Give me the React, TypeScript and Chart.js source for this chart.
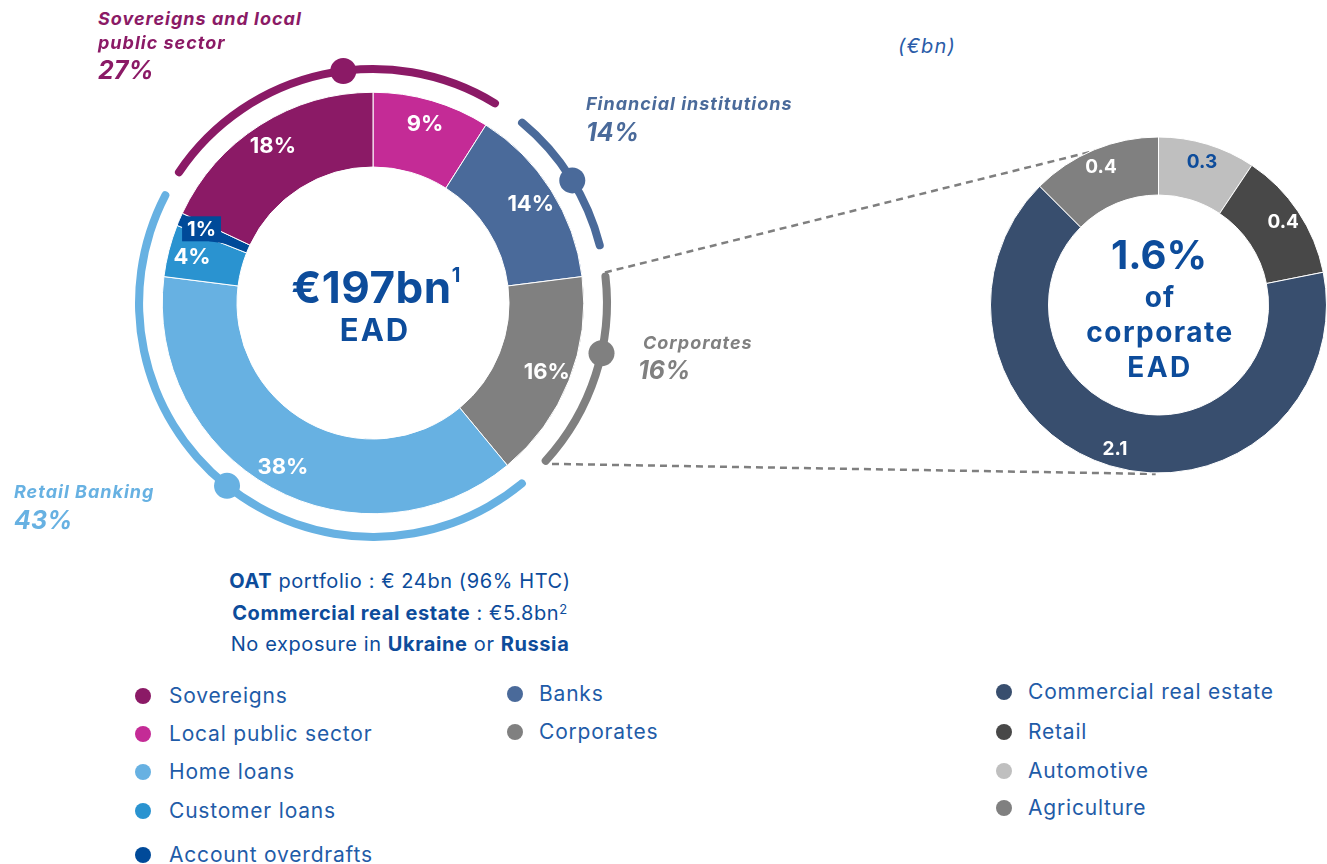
import React, { useEffect, useRef } from "react";
import { Chart, registerables } from "chart.js";

Chart.register(...registerables);

const FONT = "Inter, 'Noto Sans', sans-serif";
const DARK_BLUE = "#0D4C9B";
const LEGEND_BLUE = "#1F5CA8";

// ---- Total EAD breakdown (%), clockwise from 12 o'clock
const exposureCategories = ["Local public sector", "Banks", "Corporates", "Home loans", "Customer loans", "Account overdrafts", "Sovereigns"];
const exposureShares = [9, 14, 16, 38, 4, 1, 18];
const exposureColors = ["#C42B96", "#4A6A9A", "#808080", "#67B1E2", "#2A93D0", "#004A99", "#8B1A66"];

// ---- Groups drawn as outer brackets
const groupNames = ["Sovereigns and local public sector", "Financial institutions", "Corporates", "Retail Banking"];
const groupShares = [27, 14, 16, 43];
const groupColors = ["#8B1A66", "#4A6A9A", "#808080", "#67B1E2"];
// bracket sweeps (degrees), starting at bracketStart (degrees from 12 o'clock, clockwise)
const bracketStart = -57;
const bracketArcs = [89.4, 38.1, 50.9, 158.9];
const bracketGaps = [6.2, 5.8, 6.1, 4.6];
const groupDotAngles = [-7.3, 58.4, 102.4, 218.6];

// ---- Corporate breakdown (€bn), clockwise from 12 o'clock
const corporateCategories = ["Automotive", "Retail", "Commercial real estate", "Agriculture"];
const corporateValues = [0.3, 0.4, 2.1, 0.4];
const corporateColors = ["#BFBFBF", "#484848", "#384E6E", "#808080"];
const corporateLabelColors = [DARK_BLUE, "#FFFFFF", "#FFFFFF", "#FFFFFF"];

// ---- Legends
const legendColumnA = ["Sovereigns", "Local public sector", "Home loans", "Customer loans", "Account overdrafts"];
const legendColumnB = ["Banks", "Corporates"];
const legendColumnC = ["Commercial real estate", "Retail", "Automotive", "Agriculture"];

// ---- Layout
const MAIN_BOX = { left: 113, top: 43, size: 520 };
const SIDE_BOX = { left: 540, top: 105, width: 787, height: 400 };

const toRad = (deg: number) => ((deg - 90) * Math.PI) / 180;

function colorOf(name: string): string {
  let i = exposureCategories.indexOf(name);
  if (i >= 0) return exposureColors[i];
  i = corporateCategories.indexOf(name);
  return i >= 0 ? corporateColors[i] : "#999";
}

function T(props: any) {
  const { x, y, align = "left", size, weight = 400, italic = false, color, children, ls = 0, lh = 1.15 } = props;
  const tx = align === "center" ? "-50%" : align === "right" ? "-100%" : "0";
  return (
    <div
      style={{
        position: "absolute",
        left: x,
        top: y,
        transform: `translate(${tx},-50%)`,
        fontFamily: FONT,
        fontSize: size,
        fontWeight: weight,
        fontStyle: italic ? "italic" : "normal",
        letterSpacing: ls,
        color,
        whiteSpace: "nowrap",
        lineHeight: lh,
      }}
    >
      {children}
    </div>
  );
}

function LegendColumn(props: { items: string[]; dotX: number; textX: number; ys: number[] }) {
  return (
    <>
      {props.items.map((name, i) => (
        <React.Fragment key={name}>
          <div
            style={{
              position: "absolute",
              left: props.dotX - 8,
              top: props.ys[i] - 8,
              width: 16,
              height: 16,
              borderRadius: "50%",
              background: colorOf(name),
            }}
          />
          <T x={props.textX} y={props.ys[i]} size={21} ls={0.8} color={LEGEND_BLUE}>
            {name}
          </T>
        </React.Fragment>
      ))}
    </>
  );
}

export default function App() {
  const mainRef = useRef<HTMLCanvasElement | null>(null);
  const sideRef = useRef<HTMLCanvasElement | null>(null);

  useEffect(() => {
    if (!mainRef.current || !sideRef.current) return;

    const bracketData = bracketArcs.flatMap((a, i) => [a, bracketGaps[i]]);
    const bracketColors = groupColors.flatMap((c) => [c, "rgba(0,0,0,0)"]);

    const mainPlugin = {
      id: "mainDecor",
      afterDatasetsDraw(chart: any) {
        const ctx = chart.ctx;
        const b = chart.getDatasetMeta(0).data[0];
        const rMid = (b.innerRadius + b.outerRadius) / 2;
        ctx.save();
        groupDotAngles.forEach((d, i) => {
          const t = toRad(d);
          ctx.beginPath();
          ctx.arc(b.x + rMid * Math.cos(t), b.y + rMid * Math.sin(t), 13, 0, Math.PI * 2);
          ctx.fillStyle = groupColors[i];
          ctx.fill();
        });
        const arcs = chart.getDatasetMeta(2).data;
        ctx.textAlign = "center";
        ctx.textBaseline = "middle";
        arcs.forEach((a: any, i: number) => {
          const mid = (a.startAngle + a.endAngle) / 2;
          const r = a.innerRadius + 0.68 * (a.outerRadius - a.innerRadius);
          const x = a.x + r * Math.cos(mid);
          const y = a.y + r * Math.sin(mid);
          const text = exposureShares[i] + "%";
          if (exposureShares[i] < 2) {
            ctx.font = `700 20px ${FONT}`;
            const w = ctx.measureText(text).width + 10;
            const h = 25;
            ctx.fillStyle = exposureColors[i];
            ctx.fillRect(x - w / 2, y - h / 2, w, h);
            const ri = a.innerRadius + 8;
            const tx = a.x + ri * Math.cos(mid);
            const ty = a.y + ri * Math.sin(mid);
            ctx.beginPath();
            ctx.moveTo(x + w / 2 - 12, y + h / 2);
            ctx.lineTo(x + w / 2, y + h / 2 - 9);
            ctx.lineTo(tx, ty);
            ctx.closePath();
            ctx.fill();
          } else {
            ctx.font = `700 22px ${FONT}`;
          }
          ctx.fillStyle = "#FFFFFF";
          ctx.fillText(text, x, y + 1);
        });
        ctx.restore();
      },
    };

    const mainChart = new Chart(mainRef.current, {
      type: "doughnut",
      data: {
        labels: exposureCategories,
        datasets: [
          {
            data: bracketData,
            backgroundColor: bracketColors,
            borderWidth: 0,
            borderRadius: 4,
            weight: 8,
            rotation: bracketStart,
          } as any,
          { data: [1], backgroundColor: "rgba(0,0,0,0)", borderWidth: 0, weight: 19 } as any,
          {
            data: exposureShares,
            backgroundColor: exposureColors,
            borderColor: "#FFFFFF",
            borderWidth: 1,
            weight: 74,
          } as any,
        ],
      },
      options: {
        responsive: true,
        maintainAspectRatio: false,
        animation: false,
        cutout: 136,
        events: [],
        layout: { padding: 22 },
        plugins: { legend: { display: false }, tooltip: { enabled: false } },
      } as any,
      plugins: [mainPlugin],
    });

    const sidePlugin = {
      id: "sideDecor",
      beforeDatasetsDraw(chart: any) {
        const ctx = chart.ctx;
        const a0 = chart.getDatasetMeta(0).data[0];
        const cx = a0.x;
        const cy = a0.y;
        const R = a0.outerRadius;
        const mb = mainChart.getDatasetMeta(0).data[4] as any; // corporates bracket
        const mr = (mb.innerRadius + mb.outerRadius) / 2;
        const dx = MAIN_BOX.left - SIDE_BOX.left;
        const dy = MAIN_BOX.top - SIDE_BOX.top;
        const ends = [
          { ang: mb.startAngle, side: 1, inset: 3 },
          { ang: mb.endAngle, side: -1, inset: -1 },
        ];
        ctx.save();
        ctx.strokeStyle = "#7F7F7F";
        ctx.lineWidth = 2.5;
        ctx.setLineDash([7, 5]);
        ends.forEach((e, k) => {
          let px = mb.x + dx + mr * Math.cos(e.ang);
          let py = mb.y + dy + mr * Math.sin(e.ang);
          const rr = R - e.inset;
          const vx = px - cx;
          const vy = py - cy;
          const d = Math.hypot(vx, vy);
          const phi = Math.atan2(vy, vx);
          const alpha = Math.acos(rr / d);
          const t = phi + e.side * alpha;
          const qx = cx + rr * Math.cos(t);
          const qy = cy + rr * Math.sin(t);
          if (k === 1) {
            const L = Math.hypot(qx - px, qy - py);
            px += ((qx - px) / L) * 9;
            py += ((qy - py) / L) * 9;
          }
          ctx.beginPath();
          ctx.moveTo(px, py);
          ctx.lineTo(qx, qy);
          ctx.stroke();
        });
        ctx.restore();
      },
      afterDatasetsDraw(chart: any) {
        const ctx = chart.ctx;
        const arcs = chart.getDatasetMeta(0).data;
        ctx.save();
        ctx.font = `700 19px ${FONT}`;
        ctx.textAlign = "center";
        ctx.textBaseline = "middle";
        arcs.forEach((a: any, i: number) => {
          const mid = (a.startAngle + a.endAngle) / 2;
          const r = a.innerRadius + 0.69 * (a.outerRadius - a.innerRadius);
          ctx.fillStyle = corporateLabelColors[i];
          ctx.fillText(corporateValues[i].toFixed(1), a.x + r * Math.cos(mid), a.y + r * Math.sin(mid) + 1);
        });
        ctx.restore();
      },
    };

    const sideChart = new Chart(sideRef.current, {
      type: "doughnut",
      data: {
        labels: corporateCategories,
        datasets: [
          {
            data: corporateValues,
            backgroundColor: corporateColors,
            borderColor: "#FFFFFF",
            borderWidth: 1,
          } as any,
        ],
      },
      options: {
        responsive: true,
        maintainAspectRatio: false,
        animation: false,
        cutout: 110,
        events: [],
        layout: { padding: { left: 450, right: 0, top: 31, bottom: 31 } },
        plugins: { legend: { display: false }, tooltip: { enabled: false } },
      } as any,
      plugins: [sidePlugin],
    });

    return () => {
      sideChart.destroy();
      mainChart.destroy();
    };
  }, []);

  const bold = { fontWeight: 700, color: DARK_BLUE };

  return (
    <div
      style={{
        position: "absolute",
        left: 0,
        top: 0,
        width: 1327,
        height: 864,
        overflow: "hidden",
        background: "#FFFFFF",
        fontFamily: FONT,
      }}
    >
      <div style={{ position: "absolute", left: MAIN_BOX.left, top: MAIN_BOX.top, width: MAIN_BOX.size, height: MAIN_BOX.size }}>
        <canvas ref={mainRef} />
      </div>
      <div style={{ position: "absolute", left: SIDE_BOX.left, top: SIDE_BOX.top, width: SIDE_BOX.width, height: SIDE_BOX.height }}>
        <canvas ref={sideRef} />
      </div>

      {/* group labels */}
      <T x={98} y={19} size={18} ls={1} weight={700} italic color={groupColors[0]}>Sovereigns and local</T>
      <T x={98} y={43} size={18} ls={1} weight={700} italic color={groupColors[0]}>public sector</T>
      <T x={98} y={70} size={25} weight={700} italic color={groupColors[0]}>{groupShares[0]}%</T>

      <T x={586} y={104} size={18} ls={1} weight={700} italic color={groupColors[1]}>{groupNames[1]}</T>
      <T x={586} y={132} size={25} weight={700} italic color={groupColors[1]}>{groupShares[1]}%</T>

      <T x={643} y={343} size={18} ls={1} weight={700} italic color={groupColors[2]}>{groupNames[2]}</T>
      <T x={638} y={370} size={25} weight={700} italic color={groupColors[2]}>{groupShares[2]}%</T>

      <T x={14} y={492} size={18} ls={1} weight={700} italic color={groupColors[3]}>{groupNames[3]}</T>
      <T x={14} y={520} size={25} weight={700} italic color={groupColors[3]}>{groupShares[3]}%</T>

      {/* main centre */}
      <T x={376} y={287} align="center" size={44} ls={0.5} weight={700} color={DARK_BLUE}>
        €197bn<span style={{ fontSize: 20, verticalAlign: "top", position: "relative", top: 2 }}>1</span>
      </T>
      <T x={375} y={330} align="center" size={31} ls={2} weight={700} color={DARK_BLUE}>EAD</T>

      {/* side chart */}
      <T x={898} y={46} size={20} ls={1.2} italic color="#2A5CA8">(€bn)</T>
      <T x={1159} y={255} align="center" size={40} weight={700} color={DARK_BLUE}>1.6%</T>
      <T x={1160} y={297} align="center" size={28} ls={1} weight={700} color={DARK_BLUE}>of</T>
      <T x={1160} y={332} align="center" size={28} ls={1.5} weight={700} color={DARK_BLUE}>corporate</T>
      <T x={1160} y={367} align="center" size={28} ls={2.5} weight={700} color={DARK_BLUE}>EAD</T>

      {/* notes */}
      <T x={400} y={581} align="center" size={20} ls={0.6} color={DARK_BLUE}>
        <span style={bold}>OAT</span> portfolio : € 24bn (96% HTC)
      </T>
      <T x={400} y={613} align="center" size={20} ls={0.6} color={DARK_BLUE}>
        <span style={bold}>Commercial real estate</span> : €5.8bn
        <span style={{ fontSize: 13, verticalAlign: "top" }}>2</span>
      </T>
      <T x={400} y={644} align="center" size={20} ls={0.6} color={DARK_BLUE}>
        No exposure in <span style={bold}>Ukraine</span> or <span style={bold}>Russia</span>
      </T>

      {/* legends */}
      <LegendColumn items={legendColumnA} dotX={143} textX={169} ys={[696, 734, 772, 811, 855]} />
      <LegendColumn items={legendColumnB} dotX={515} textX={539} ys={[694, 732]} />
      <LegendColumn items={legendColumnC} dotX={1004} textX={1028} ys={[692, 732, 771, 808]} />
    </div>
  );
}
